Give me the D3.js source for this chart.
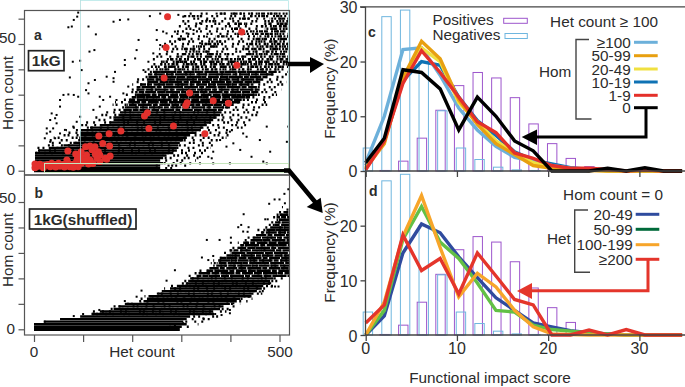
<!DOCTYPE html>
<html>
<head>
<meta charset="utf-8">
<script src="https://cdn.jsdelivr.net/npm/d3@7"></script>
<style>
body { margin: 0; background: #fff; }
text { font-family: "Liberation Sans", Arial, sans-serif; fill: #2b2b2b; }
</style>
</head>
<body>
<svg id="fig" width="685" height="387"></svg>
<script>
// score bins used by panels c and d
let scores = [0, 2.04, 4.08, 6.12, 8.16, 10.2, 12.24, 14.28, 16.32, 18.36, 20.4, 22.44, 24.48, 26.52, 28.56, 30.6, 32.64, 34.68]

let negatives = [4.2, 28.2, 29.4, 20, 11, 4.2, 2.1, 0.7, 0.2, 0.1, 0, 0, 0, 0, 0, 0, 0, 0]
let positives = [0, 0.1, 1.8, 6, 11.1, 15.6, 18, 17, 13.4, 8.6, 5, 2.3, 0.8, 0.3, 0, 0, 0, 0]

// panel c, frequency lines by hom count
let c100 = [1.5, 10, 22.2, 22.5, 17.5, 11.5, 7.5, 4.5, 2.5, 1.8, 1, 0.5, 0.3, 0.1, 0, 0, 0, 0]
let c50 = [0.5, 5, 17, 23.7, 20.5, 13, 8.5, 5, 3, 1, 0.5, 0.3, 0.1, 0, 0, 0, 0, 0]
let c20 = [0.5, 5.3, 17, 22.5, 20, 12.5, 9, 5.5, 3.3, 1.5, 0.8, 0.4, 0.2, 0, 0, 0, 0, 0]
let c10 = [1, 5.5, 16.5, 20, 19.3, 13.5, 9.2, 6.5, 3.5, 2, 1.3, 0.6, 0.3, 0.1, 0, 0, 0, 0]
let c1 = [0.2, 5.5, 16, 22, 18, 13.5, 9, 7, 3.3, 2.3, 1, 0.5, 0.5, 0.3, 0, 0.2, 0, 0]
let c0 = [1.5, 6, 18.5, 18, 15, 7.5, 13.5, 10, 5.5, 3.7, 0, 0, 0, 0.5, 0, 0.6, 0, 0]

// panel d, frequency lines by het count
let d20 = [0, 3.5, 15, 20.3, 18.7, 14.3, 10.5, 6.8, 4.5, 2.2, 1.5, 0.8, 0.4, 0.2, 0, 0, 0, 0]
let d50 = [0, 4.5, 17.5, 23.5, 17, 14, 9.5, 4.5, 4.2, 1.8, 1, 0.7, 0.4, 0.2, 0, 0, 0, 0]
let d100 = [0, 6, 18, 25.5, 16, 7, 11.3, 8.8, 4.5, 1.5, 0.2, 0.1, 0, 0, 0, 0, 0, 0]
let d200 = [2.2, 5.5, 18.3, 11.8, 14, 7.5, 15, 10.8, 6.5, 5.5, 0, 0, 0.9, 0, 1, 0, 0, 0]

// panel a, rows of hom count: [hom, first het, last het]
let rowsA = [[0,0,520],[1,0,257],[2,0,257],[3,2,263],[4,2,257],[5,2,263],[6,2,270],[7,4,284],[8,10,291],[9,30,291],
  [10,60,294],[11,80,297],[12,90,304],[13,92,311],[14,94,318],[15,94,331],[16,97,338],[17,114,345],[18,134,352],[19,155,359],
  [20,162,365],[21,165,372],[22,172,379],[23,175,382]]
let rowsAMid = [[24,182,386],[25,185,399],[26,189,406],[27,192,420],[28,196,426],[29,199,440],[30,206,454],[31,206,457],[32,209,461],[33,209,454],
  [34,216,447],[35,230,461],[36,230,467],[37,233,474],[38,236,488],[39,236,494]]
let rowsASparse = [[40,243,501],[41,250,508],[42,257,520],[43,263,520],[44,277,520],[45,290,380],[45,420,520],[46,300,400],[46,430,520],
  [47,318,360],[47,440,520],[48,300,340],[48,425,520],[49,330,370],[49,445,520],[50,345,385],[50,430,520],[51,360,390],[51,450,520],
  [52,290,310],[52,440,520],[53,370,395],[53,455,520],[54,400,520],[55,445,520],[56,390,420],[56,470,520],[57,460,520],[58,395,430],
  [58,480,520],[59,350,372],[59,470,520],[60,400,440],[60,480,520],[61,305,345],[61,440,500],[62,380,520]]
// thin speckle around the cloud
let rowsAFaint = [[1,257,300],[2,257,310],[3,260,320],[4,257,330],[5,260,335],[6,265,345],[7,2,350],[8,2,355],[9,5,360],[10,14,368],[11,22,378],[12,30,385],[13,40,392],[14,50,400],[15,60,405],[16,65,415],[17,75,425],[18,90,432],[19,100,440],[20,115,445],[21,125,450],[22,135,455],[23,145,460],[24,150,465],[25,155,470],[26,160,475],[27,165,480],[28,175,485],[29,180,490],[30,185,495],[31,190,500],[32,195,505],[33,195,505],[34,200,510],[35,205,515],[36,210,515],[37,215,520],[38,220,520],[39,225,520],[40,225,520],[41,230,520],[42,235,520],[43,240,520],[44,240,520],[45,245,520],[46,250,520],[47,255,520],[48,255,520],[49,260,520],[50,265,520],[51,265,520],[52,270,520],[53,275,520],[54,280,520],[55,285,520],[56,290,520],[57,295,520],[58,300,520],[59,300,520],[60,310,520],[61,310,520],[62,315,520]]

// panel a, the loose points around the cloud: [het, hom]
let looseA = [[90,62.4],[88,60.8],[81,59.5],[77,56.9],[70,56.6],[111,56.9],[126,53.8],[113,47],[123,47.6],[79,43],[94,43.4],[97,39.7],[73,36.8],[124,35.8],[111,34.5],[106,31.8],[111,30.5],[148,37.1],[162,58.8],[175,59.5],[192,59.7],[185,43.7],[185,41.7],[165,39],[162,36.5],[162,35.1],
  [60,29.9],[53,27.9],[70,30.1],[81,29.9],[90,29.2],[53,25.3],[46,22],[36,22.6],[43,20.7],[46,18.7],[33,20],[26,16.7],[26,14.7],[33,15.4],[39,16.7],[22,12.8],[33,11.4],[43,12.8],[53,14.7],[63,16.1],[80,17.4],[87,19.3],[94,21.3],[121,24],[134,25.3],[141,27.9],[134,29.2],[155,29.2],[168,27.9],[182,30.5],[192,33.2],
  [206,44.3],[209,47.6],[213,51.6],[236,61],[257,62],[294,61.5],[304,60.8],[250,55.5],[263,54.9],[270,54.2],[287,54.9],[250,51.6],[257,49.6],[243,46.3],[233,43],[223,39.7],[297,51.6],[311,54.2],[325,55.5],[338,58.2],[352,59.5],[372,62],[325,47.6],[338,50.3],[352,52.9],[359,45],[284,41],[297,43.7],[311,41],
  [518,17.4],[515,11.4],[481,7.5],[406,10.8],[420,8.2],[443,5.5],[433,13.4],[392,9.5],[399,15.4],[379,12.1],[365,7.5],[338,5.5],[355,5.5],[362,4.9],[460,12.1],[426,14.7],[474,17.4],[467,3.6],[474,2.9],[399,2.9],[365,2.9],[338,2.9],[318,2.9],[274,2],[250,2]]

// panel a, red points: [het, hom]
let redA = [[272,60.8],[423,54.7],[269,48.6],[413,41.6],[265,36.6],[317,30.7],[365,27.6],[396,26.6],[312,26.8],[309,25.7],[231,22.9],[225,21.6],[234,16.7],[284,17.6],[348,14.6],[177,15.7],[153,14.6],[132,13.7],[140,10.7],[154,9.7],[114,9.7],[124,9.5],[131,7.5],[134,6.2],[69,7.8],[96,7.5],[85,6.6],[155,5.8],[145,4.9],[134,3.6],[114,4.2],[111,2.6],[94,5.5],[107,6.2],[2,1.2],[9,1.8],[22,2.2],[36,2.9],[50,2.9],[67,4.2],[70,2.9],[84,2.9],[97,2.9],[19,1.2],[33,1.6],[53,1.8],[73,1.6],[90,1.6],
  [2,2.6],[12,2.5],[28,2.4],[42,2.4],[60,2.4],[78,2.4],[88,3.5],[62,1.5],[44,1.5],[80,1.4],[105,9.5],[118,8.3],[100,5],[125,6.5],[128,5],[148,4.5],[120,2.8],[105,4],[88,4.5]]

// panel b, rows of hom count: [hom, first het, last het]
let rowsB = [[0,0,297],[1,0,301],[2,0,311],[3,20,304],[4,53,311],[5,94,318],[6,117,365],[7,134,365],[8,162,379],[9,172,386],[10,185,399],[11,223,413],[12,230,420],[13,236,443],[14,253,447],[15,263,454],[16,277,464],[17,291,467],[18,311,481],[19,314,481],[20,318,488]]
let rowsBMid = [[21,331,520],[22,338,520],[23,352,520],[24,359,520],[25,365,520],[26,372,520],[27,375,520],[28,379,520],[29,392,520],[30,399,520],[31,399,520],[32,416,520],[33,420,520],[34,426,520],[35,440,520],[36,447,520],[37,454,520],[38,464,520],[39,467,520],[40,481,520],[41,488,520],[42,491,520],[43,494,520],[44,494,520],[45,500,520],[46,508,520]]
let rowsBFaint = [[1,301,320],[2,311,335],[3,304,345],[4,311,360],[5,318,375],[6,100,385],[7,120,392],[8,150,400],[9,160,410],[10,175,420],[11,200,435],[12,215,445],[13,225,455],[14,240,465],[15,250,470],[16,265,480],[17,275,490],[18,295,498],[19,300,505],[20,305,510],[21,315,520],[22,325,520],[23,335,520],[24,345,520],[25,355,520],[26,360,520],[27,365,520],[28,370,520],[29,380,520],[30,385,520],[31,390,520],[32,400,520],[33,405,520],[34,415,520],[35,425,520],[36,435,520],[37,440,520],[38,450,520],[39,455,520],[40,465,520],[41,470,520],[42,475,520],[43,480,520],[44,485,520],[45,490,520],[46,495,520],[47,500,520],[48,505,520]]

// panel b, loose points
let looseB = [[518,55],[510,53.2],[500,51],[490,51],[479,49.3],[511,49.5],[427,45.2],[471,43.2],[476,43.2],[422,41],[416,40.1],[437,40.1],[426,38.4],[435,38.3],[352,35.1],[378,35.1],[401,36],[401,34],[342,28.2],[355,27.2],[365,28.8],[287,23.2],[270,19.1],[219,15.2],[209,12.8],[185,11.1],[22,3],[81,5.2],[100,6],[133,7.6],
  [484,16.8],[491,16.8],[498,16.8],[481,18.1],[460,14.8],[437,12.8],[406,10.2],[399,7.6],[382,5.6],[399,6.3],[369,6],[345,4.3],[304,2.4],[287,1.7],[260,0.3],[233,0.4],[277,1]]

let linesC = [
  {values: c10, color: '#0f72b4', label: '10-19'},
  {values: c100, color: '#6cb0da', label: '≥100'},
  {values: c20, color: '#f0e040', label: '20-49'},
  {values: c50, color: '#e8a010', label: '50-99'},
  {values: c1, color: '#e4302a', label: '1-9'},
  {values: c0, color: '#000000', label: '0'}
]
let linesD = [
  {values: d20, color: '#2f4b9e', label: '20-49'},
  {values: d50, color: '#62c045', label: '50-99', key: '#006a3a'},
  {values: d100, color: '#f7a52a', label: '100-199'},
  {values: d200, color: '#e4352b', label: '≥200'}
]

let svg = d3.select('#fig')
let axisGrey = '#555'

// clip rects, one per panel
let defs = svg.append('defs')
defs.append('clipPath').attr('id', 'clipA').append('rect').attr('x', 24.5).attr('y', 10.5).attr('width', 265).attr('height', 164.5)
defs.append('clipPath').attr('id', 'clipB').append('rect').attr('x', 24.5).attr('y', 175).attr('width', 265).attr('height', 160)

let hetScale = d3.scaleLinear().domain([0, 500]).range([34, 279.5])
let homA = d3.scaleLinear().domain([0, 50]).range([170.7, 44])
let homB = d3.scaleLinear().domain([0, 50]).range([329.3, 202])

let drawScatter = (clip, homScale, faint, dense, mid, sparse, loose) => {
  let g = svg.append('g').attr('clip-path', 'url(#' + clip + ')')
  let bands = (rows, dash) => {
    g.selectAll(null)
      .data(rows)
      .enter()
      .append('line')
      .attr('x1', d => hetScale(d[1]))
      .attr('x2', d => hetScale(d[2]))
      .attr('y1', d => homScale(d[0]))
      .attr('y2', d => homScale(d[0]))
      .attr('stroke', '#000')
      .attr('stroke-width', d => d[0] === 0 ? 3.2 : 2.4)
      .attr('stroke-dasharray', dash)
      .attr('stroke-dashoffset', d => d[0] * 13)
  }
  bands(faint, '2 5 2 9 2 3 2 12 2 2 2 7')
  bands(dense, null)
  bands(mid, '8 1 14 1 5 1.5 11 1')
  bands(sparse, '2 1.5 2 3 2 1 2 5 2 1 4 2')
  g.selectAll(null)
    .data(loose)
    .enter()
    .append('rect')
    .attr('x', d => hetScale(d[0]) - 1)
    .attr('y', d => homScale(d[1]) - 1)
    .attr('width', 2)
    .attr('height', 2)
    .attr('fill', '#000')
  return g
}

let gA = drawScatter('clipA', homA, rowsAFaint, rowsA, rowsAMid, rowsASparse, looseA)
gA.selectAll('circle')
  .data(redA)
  .enter()
  .append('circle')
  .attr('cx', d => hetScale(d[0]))
  .attr('cy', d => homA(d[1]))
  .attr('r', 3.5)
  .attr('fill', '#e3312d')
drawScatter('clipB', homB, rowsBFaint, rowsB, rowsBMid, [], looseB)

// stray selection rectangles left in the original artwork
svg.append('path').attr('d', 'M80.5,0.5H288.5V163').attr('fill', 'none').attr('stroke', '#c4ecec').attr('stroke-width', 1)
svg.append('line').attr('x1', 80.5).attr('x2', 80.5).attr('y1', 0).attr('y2', 163).attr('stroke', '#a8d8d8').attr('stroke-width', 0.7)
svg.append('rect').attr('x', 44.5).attr('y', 163.5).attr('width', 244).attr('height', 9).attr('fill', 'none').attr('stroke', '#c6e6bd').attr('stroke-width', 1)

// scatter frames and axes
let frame = (y0, y1) => {
  svg.append('rect').attr('x', 24.5).attr('y', y0).attr('width', 265).attr('height', y1 - y0)
    .attr('fill', 'none').attr('stroke', axisGrey).attr('stroke-width', 1.2)
}
frame(10.5, 175)
frame(175, 335)

let yAxisA = d3.axisLeft(homA).tickValues([0, 10, 20, 30, 40, 50, 60]).tickFormat('').tickSize(6)
let yAxisB = d3.axisLeft(homB).tickValues([0, 10, 20, 30, 40, 50]).tickFormat('').tickSize(6)
svg.append('g').attr('transform', 'translate(24.5,0)').call(yAxisA)
svg.append('g').attr('transform', 'translate(24.5,0)').call(yAxisB)
let xAxisB = d3.axisBottom(hetScale).tickValues([0, 100, 200, 300, 400, 500]).tickFormat('').tickSize(7)
svg.append('g').attr('transform', 'translate(0,335)').call(xAxisB)
svg.selectAll('.domain').remove()
svg.selectAll('.tick line').attr('stroke', axisGrey).attr('stroke-width', 1.2)

let label = (x, y, t, opts = {}) => {
  let el = svg.append('text').attr('x', x).attr('y', y).text(t)
    .attr('font-size', opts.size || 15.3)
    .attr('text-anchor', opts.anchor || 'start')
  if (opts.bold) el.attr('font-weight', 'bold')
  if (opts.rotate) el.attr('transform', 'rotate(-90,' + x + ',' + y + ')')
  return el
}

label(16, 42.5, '50', {anchor: 'end'})
label(15, 174.5, '0', {anchor: 'end'})
label(16, 203, '50', {anchor: 'end'})
label(15, 334, '0', {anchor: 'end'})
label(12.7, 93, 'Hom count', {anchor: 'middle', rotate: true})
label(12.7, 250, 'Hom count', {anchor: 'middle', rotate: true})
label(34, 356.5, '0', {anchor: 'middle'})
label(142, 356.5, 'Het count', {anchor: 'middle'})
label(280, 356.5, '500', {anchor: 'middle'})

label(34, 40, 'a', {bold: true, size: 14})
label(34.5, 198, 'b', {bold: true, size: 14})
svg.append('rect').attr('x', 28.5).attr('y', 50.7).attr('width', 35.5).attr('height', 20)
  .attr('fill', '#fff').attr('stroke', '#222').attr('stroke-width', 1.7)
label(46.2, 65.5, '1kG', {bold: true, anchor: 'middle'})
svg.append('rect').attr('x', 29.5).attr('y', 209).attr('width', 106.5).attr('height', 20)
  .attr('fill', '#fff').attr('stroke', '#222').attr('stroke-width', 1.7)
label(83, 224.5, '1kG(shuffled)', {bold: true, anchor: 'middle'})

// panels c and d
let scoreScale = d3.scaleLinear().domain([0, 35]).range([365.7, 685])
let freqC = d3.scaleLinear().domain([0, 30]).range([171, 6.8])
let freqD = d3.scaleLinear().domain([0, 30]).range([335, 171])
let lineOf = (yScale) => d3.line().x((d, i) => scoreScale(scores[i])).y(d => yScale(d))

let drawBars = (yScale, values, offset, color) => {
  let w = scoreScale(1.03) - scoreScale(0)
  svg.selectAll(null)
    .data(values.map((v, i) => ({v: v, s: scores[i]})).filter(d => d.v > 0))
    .enter()
    .append('rect')
    .attr('x', d => scoreScale(d.s + offset) - w / 2)
    .attr('y', d => yScale(d.v))
    .attr('width', w)
    .attr('height', d => yScale(0) - yScale(d.v))
    .attr('fill', 'none')
    .attr('stroke', color)
    .attr('stroke-width', 1)
}

let drawFreq = (yScale, lines, top) => {
  drawBars(yScale, positives, 0.04, '#9d55cc')
  drawBars(yScale, negatives, 0.24, '#6fb6df')
  svg.selectAll(null)
    .data(lines)
    .enter()
    .append('path')
    .attr('d', d => lineOf(yScale)(d.values))
    .attr('fill', 'none')
    .attr('stroke', d => d.color)
    .attr('stroke-width', 3.4)
    .attr('stroke-linejoin', 'miter')
  // axis lines, left and bottom
  svg.append('path').attr('d', 'M365.5,' + top + 'V' + yScale(0) + 'H685')
    .attr('fill', 'none').attr('stroke', '#444').attr('stroke-width', 1.3)
  let ax = d3.axisLeft(yScale).tickValues([0, 10, 20, 30].filter(v => yScale(v) >= top)).tickSize(5).tickFormat('')
  let ay = svg.append('g').attr('transform', 'translate(365.5,0)').call(ax)
  ay.select('.domain').remove()
  let bx = d3.axisBottom(scoreScale).tickValues([0, 10, 20, 30]).tickSize(6).tickFormat('')
  let by = svg.append('g').attr('transform', 'translate(0,' + yScale(0) + ')').call(bx)
  by.select('.domain').remove()
  ay.selectAll('line').attr('stroke', '#444').attr('stroke-width', 1.3)
  by.selectAll('line').attr('stroke', '#444').attr('stroke-width', 1.3)
}

drawFreq(freqC, linesC, 6.8)
drawFreq(freqD, linesD, 172)
svg.append('line').attr('x1', 360).attr('x2', 685).attr('y1', 6.8).attr('y2', 6.8).attr('stroke', '#444').attr('stroke-width', 1.2)

;[30, 20, 10, 0].forEach(v => label(357.5, freqC(v) + 6, v, {anchor: 'end', size: 16}))
;[20, 10, 0].forEach(v => label(357.5, freqD(v) + 6.5, v, {anchor: 'end', size: 16}))
;[0, 10, 20, 30].forEach(v => label(scoreScale(v), 354, v, {anchor: 'middle', size: 16}))
label(335, 88.7, 'Frequency (%)', {anchor: 'middle', rotate: true})
label(335, 252.5, 'Frequency (%)', {anchor: 'middle', rotate: true})
label(490, 383, 'Functional impact score', {anchor: 'middle'})
label(368, 36.5, 'c', {bold: true, size: 14})
label(369, 196, 'd', {bold: true, size: 14})

// legend for the bars
label(432.5, 25, 'Positives')
label(432.5, 39.5, 'Negatives')
svg.append('rect').attr('x', 503.7).attr('y', 18.3).attr('width', 23.6).attr('height', 5)
  .attr('fill', 'none').attr('stroke', '#9d55cc')
svg.append('rect').attr('x', 505).attr('y', 33.5).attr('width', 22.3).attr('height', 5)
  .attr('fill', 'none').attr('stroke', '#6fb6df')

// line legends, top to bottom as in the figure
let legendC = [c100, c50, c20, c10, c1, c0].map(v => linesC.find(l => l.values === v))
let legendD = linesD
let legendCY = [42.3, 55.7, 69, 82, 95.3, 107.7]
let legendDY = [214.3, 229.3, 244.7, 259.3]
legendC.forEach((l, i) => {
  label(630.7, legendCY[i] + 5.5, l.label, {anchor: 'end'})
  svg.append('line').attr('x1', 634).attr('x2', 657.7).attr('y1', legendCY[i]).attr('y2', legendCY[i])
    .attr('stroke', l.color).attr('stroke-width', 3)
})
legendD.forEach((l, i) => {
  label(632.7, legendDY[i] + 5.5, l.label, {anchor: 'end'})
  svg.append('line').attr('x1', 635.7).attr('x2', 659.3).attr('y1', legendDY[i]).attr('y2', legendDY[i])
    .attr('stroke', l.key || l.color).attr('stroke-width', 3)
})
label(658, 26.7, 'Het count ≥ 100', {anchor: 'end'})
label(663, 200, 'Hom count = 0', {anchor: 'end'})
label(539, 77, 'Hom')
label(547, 244, 'Het')
let bracket = (d) => svg.append('path').attr('d', d).attr('fill', 'none').attr('stroke', '#444').attr('stroke-width', 1.4)
bracket('M589,39.5H576V119H591.5')
bracket('M588,210H574.7V272.3H590')

// callout arrows
let callout = (d, head, color, w) => {
  svg.append('path').attr('d', d).attr('fill', 'none').attr('stroke', color).attr('stroke-width', w)
  svg.append('path').attr('d', head).attr('fill', color)
}
callout('M646,108V137H535', 'M521.7,137L537,129.5V145Z', '#000', 3)
callout('M648,259.3V290.7H530', 'M517,291L532,283V299Z', '#e4352b', 3)
callout('M288,64H312', 'M324,64L310,57V73Z', '#000', 4.5)
callout('M284,170.5H289L316,203', 'M322.7,213L306.7,207L320.7,197.7Z', '#000', 4.5)
</script>
</body>
</html>
